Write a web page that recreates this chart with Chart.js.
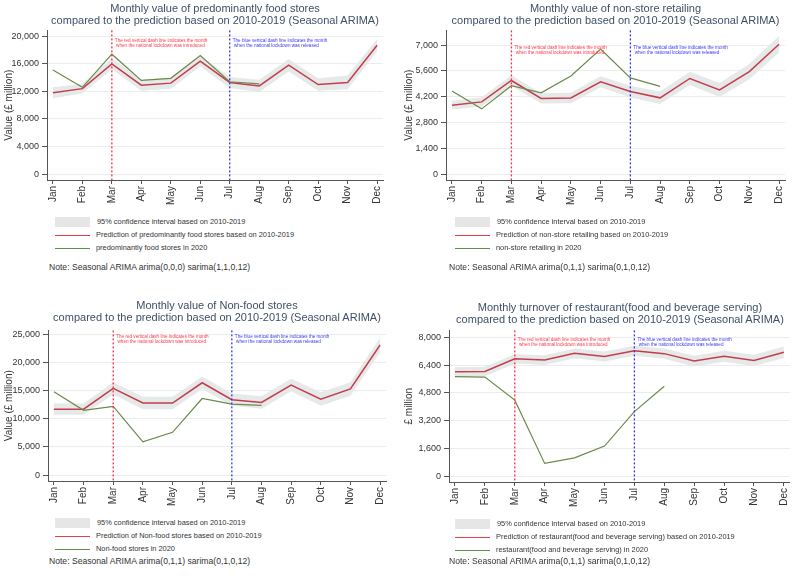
<!DOCTYPE html>
<html>
<head>
<meta charset="utf-8">
<script src="https://cdn.jsdelivr.net/npm/chart.js@4/dist/chart.umd.min.js"></script>
<style>
  body { margin: 0; background: #fff; font-family: "Liberation Sans", Arial, sans-serif; }
  #wrap { position: relative; width: 798px; height: 576px; overflow: hidden; background: #fff; }
  canvas { position: absolute; }
  .title { position: absolute; color: #3e4f66; font-size: 11px; line-height: 12px; text-align: center; white-space: nowrap; }
  .leg { position: absolute; font-size: 7.4px; color: #333; white-space: nowrap; line-height: 10px; }
  .sw { position: absolute; width: 35px; }
  .note { position: absolute; font-size: 8.6px; color: #333; white-space: nowrap; line-height: 10px; }
</style>
</head>
<body>
<div id="wrap"></div>
<script>
const months = ["Jan", "Feb", "Mar", "Apr", "May", "Jun", "Jul", "Aug", "Sep", "Oct", "Nov", "Dec"];
const lockdownStart = 2; // Mar
const lockdownEnd = 6;   // Jul
const startNote = ["The red vertical dash line indicates the month", " when the national lockdown was introduced"];
const endNote = ["The blue vertical dash line indicates the month", " when the national lockdown was released"];
const ciLabel = "95% confidence interval based on 2010-2019";

// predominantly food stores
const foodPred = [11800, 12400, 16000, 12900, 13200, 16400, 13300, 12800, 15800, 13000, 13300, 18700];
const foodHi = [12600, 13100, 16800, 13700, 14000, 17200, 14100, 13700, 16700, 13900, 14300, 19600];
const foodLo = [11000, 11700, 15200, 12100, 12400, 15600, 12500, 11900, 14900, 12100, 12300, 17800];
const food2020 = [15100, 12600, 17400, 13600, 13900, 17200, 13400, 13100];
const foodTicks = [0, 4000, 8000, 12000, 16000, 20000];

// non-store retailing
const nonStorePred = [3740, 3920, 5080, 4110, 4130, 5010, 4480, 4140, 5190, 4570, 5560, 7050];
const nonStoreHi = [3980, 4170, 5360, 4390, 4410, 5310, 4800, 4480, 5550, 4950, 5970, 7500];
const nonStoreLo = [3500, 3670, 4800, 3830, 3850, 4710, 4160, 3800, 4830, 4190, 5150, 6600];
const nonStore2020 = [4510, 3540, 4800, 4410, 5330, 6790, 5220, 4760];
const nonStoreTicks = [0, 1400, 2800, 4200, 5600, 7000];

// non-food stores
const nonFoodPred = [11700, 11700, 15400, 12800, 12800, 16400, 13400, 12900, 16000, 13500, 15300, 23100];
const nonFoodHi = [12700, 12700, 16500, 13900, 13900, 17500, 14500, 14000, 17100, 14700, 16500, 24400];
const nonFoodLo = [10700, 10700, 14300, 11700, 11700, 15300, 12300, 11800, 14900, 12300, 14100, 21800];
const nonFood2020 = [14800, 11500, 12200, 5900, 7600, 13600, 12600, 12400];
const nonFoodTicks = [0, 5000, 10000, 15000, 20000, 25000];

// restaurant (food and beverage serving)
const restPred = [6010, 6030, 6760, 6690, 7080, 6890, 7230, 7060, 6630, 6910, 6670, 7140];
const restHi = [6280, 6300, 7030, 6970, 7360, 7180, 7520, 7360, 6940, 7230, 6990, 7470];
const restLo = [5740, 5760, 6490, 6410, 6800, 6600, 6940, 6760, 6320, 6590, 6350, 6810];
const rest2020 = [5730, 5710, 4380, 730, 1050, 1730, 3720, 5180];
const restTicks = [0, 1600, 3200, 4800, 6400, 8000];

Chart.defaults.font.family = "'Liberation Sans', Arial, sans-serif";

const panels = [
  {
    title: ["Monthly value of predominantly food stores", "compared to the prediction based on 2010-2019 (Seasonal ARIMA)"],
    pred: foodPred, hi: foodHi, lo: foodLo, actual: food2020, yTicks: foodTicks,
    predLabel: "Prediction of predominantly food stores based on 2010-2019",
    actualLabel: "predominantly food stores in 2020",
    note: "Note: Seasonal ARIMA  arima(0,0,0) sarima(1,1,0,12)",
    yTitle: "Value (£ million)",
    x: 0, y: 22, w: 399, h: 190, padTop: 5, padRight: 16, yWidth: 47, xHeight: 32,
    yMin: -850, yMax: 20850, noteAt: 19300, titleTop: 2, legTop: 217, noteTop: 262,
  },
  {
    title: ["Monthly value of non-store retailing", "compared to the prediction based on 2010-2019 (Seasonal ARIMA)"],
    pred: nonStorePred, hi: nonStoreHi, lo: nonStoreLo, actual: nonStore2020, yTicks: nonStoreTicks,
    predLabel: "Prediction of non-store retailing  based on 2010-2019",
    actualLabel: "non-store retailing  in 2020",
    note: "Note: Seasonal ARIMA  arima(0,1,1) sarima(0,1,0,12)",
    yTitle: "Value (£ million)",
    x: 400, y: 22, w: 398, h: 190, padTop: 5, padRight: 13, yWidth: 46, xHeight: 32,
    yMin: -320, yMax: 7800, noteAt: 6850, titleTop: 2, legTop: 217, noteTop: 262,
  },
  {
    title: ["Monthly value of Non-food stores", "compared to the prediction based on 2010-2019 (Seasonal ARIMA)"],
    pred: nonFoodPred, hi: nonFoodHi, lo: nonFoodLo, actual: nonFood2020, yTicks: nonFoodTicks,
    predLabel: "Prediction of Non-food stores  based on 2010-2019",
    actualLabel: "Non-food stores  in 2020",
    note: "Note: Seasonal ARIMA  arima(0,1,1) sarima(0,1,0,12)",
    yTitle: "Value (£ million)",
    x: 0, y: 322, w: 399, h: 190, padTop: 6, padRight: 13, yWidth: 48, xHeight: 31,
    yMin: -1050, yMax: 25700, noteAt: 24500, titleTop: 299, legTop: 518, noteTop: 556,
  },
  {
    title: ["Monthly turnover of restaurant(food and beverage serving)", "compared to the prediction based on 2010-2019 (Seasonal ARIMA)"],
    pred: restPred, hi: restHi, lo: restLo, actual: rest2020, yTicks: restTicks,
    predLabel: "Prediction of restaurant(food and beverage serving) based on 2010-2019",
    actualLabel: "restaurant(food and beverage serving) in 2020",
    note: "Note: Seasonal ARIMA  arima(0,1,1) sarima(0,1,0,12)",
    yTitle: "£ million",
    x: 400, y: 322, w: 398, h: 190, padTop: 6, padRight: 7, yWidth: 49, xHeight: 30,
    yMin: -340, yMax: 8400, noteAt: 7850, titleTop: 301, legTop: 519, noteTop: 556,
  },
];

function toPoints(values) {
  return values.map((v, i) => ({ x: i, y: v }));
}

// dashed lockdown markers with their small captions
const lockdownLines = {
  id: "lockdownLines",
  afterDatasetsDraw(chart, args, opts) {
    const { ctx, chartArea, scales } = chart;
    const marks = [
      { at: lockdownStart, line: "#ff2d45", textColor: "#ff3a4a", text: startNote },
      { at: lockdownEnd, line: "#3535e6", textColor: "#3c3cf0", text: endNote },
    ];
    const ty = scales.y.getPixelForValue(opts.noteAt);
    marks.forEach((m) => {
      const x = scales.x.getPixelForValue(m.at);
      ctx.save();
      ctx.strokeStyle = m.line;
      ctx.lineWidth = 1.3;
      ctx.setLineDash([2, 2]);
      ctx.beginPath();
      ctx.moveTo(x, chartArea.top);
      ctx.lineTo(x, chartArea.bottom);
      ctx.stroke();
      ctx.setLineDash([]);
      ctx.fillStyle = m.textColor;
      ctx.font = "4.6px 'Liberation Sans', Arial, sans-serif";
      ctx.textBaseline = "middle";
      m.text.forEach((t, i) => ctx.fillText(t, x + 3, ty + i * 5));
      ctx.restore();
    });
  },
};

const wrap = document.getElementById("wrap");

function addDiv(cls, left, top, html, style) {
  const d = document.createElement("div");
  d.className = cls;
  d.style.left = left + "px";
  d.style.top = top + "px";
  if (style) Object.assign(d.style, style);
  if (html !== null) d.textContent = html;
  wrap.appendChild(d);
  return d;
}

panels.forEach((p) => {
  const canvas = document.createElement("canvas");
  canvas.width = p.w;
  canvas.height = p.h;
  canvas.style.left = p.x + "px";
  canvas.style.top = p.y + "px";
  wrap.appendChild(canvas);

  new Chart(canvas, {
    type: "line",
    data: {
      datasets: [
        { data: toPoints(p.actual), borderColor: "#6b8a4a", borderWidth: 1.2, pointRadius: 0, fill: false, tension: 0 },
        { data: toPoints(p.pred), borderColor: "#c43d4b", borderWidth: 1.5, pointRadius: 0, fill: false, tension: 0 },
        { data: toPoints(p.hi), borderWidth: 0, borderColor: "rgba(0,0,0,0)", backgroundColor: "#e6e9e9", pointRadius: 0, fill: "+1", tension: 0 },
        { data: toPoints(p.lo), borderWidth: 0, borderColor: "rgba(0,0,0,0)", pointRadius: 0, fill: false, tension: 0 },
      ],
    },
    options: {
      responsive: false,
      animation: false,
      devicePixelRatio: 1,
      layout: { padding: { left: 0, right: p.padRight, top: p.padTop, bottom: 0 } },
      plugins: {
        legend: { display: false },
        tooltip: { enabled: false },
        lockdownLines: { noteAt: p.noteAt },
      },
      scales: {
        x: {
          type: "linear",
          min: -0.2,
          max: 11.2,
          afterBuildTicks: (axis) => { axis.ticks = months.map((_, i) => ({ value: i })); },
          afterFit: (axis) => { axis.height = p.xHeight; },
          ticks: {
            callback: (v) => months[v],
            autoSkip: false,
            maxRotation: 90,
            minRotation: 90,
            padding: 2,
            color: "#333",
            font: { size: 10 },
          },
          grid: { drawOnChartArea: false, tickLength: 4, tickColor: "#555" },
          border: { color: "#555" },
        },
        y: {
          min: p.yMin,
          max: p.yMax,
          afterBuildTicks: (axis) => { axis.ticks = p.yTicks.map((v) => ({ value: v })); },
          afterFit: (axis) => { axis.width = p.yWidth; },
          ticks: {
            callback: (v) => v.toLocaleString("en-US"),
            padding: 3,
            color: "#333",
            font: { size: 9 },
          },
          grid: { color: "#ececec", tickLength: 5, tickColor: "#555" },
          border: { color: "#555" },
          title: { display: true, text: p.yTitle, color: "#333", font: { size: 10 }, padding: { top: 3, bottom: 0 } },
        },
      },
    },
    plugins: [lockdownLines],
  });

  // title centred over the plot area
  const plotLeft = p.x + p.yWidth;
  const plotRight = p.x + p.w - p.padRight;
  addDiv("title", plotLeft - 40, p.titleTop, null, { width: (plotRight - plotLeft + 80) + "px" }).innerHTML =
    p.title.join("<br>");

  // legend
  const lx = p.x + 55;
  addDiv("sw", lx, p.legTop, null, { height: "10px", background: "#e6e6e6" });
  addDiv("leg", lx + 42, p.legTop, ciLabel);
  addDiv("sw", lx, p.legTop + 18, null, { height: "1px", background: "#e0404c" });
  addDiv("leg", lx + 41, p.legTop + 13, p.predLabel);
  addDiv("sw", lx, p.legTop + 31, null, { height: "1px", background: "#5f8f4c" });
  addDiv("leg", lx + 41, p.legTop + 26, p.actualLabel);
  addDiv("note", p.x + 49, p.noteTop, p.note);
});
</script>
</body>
</html>
